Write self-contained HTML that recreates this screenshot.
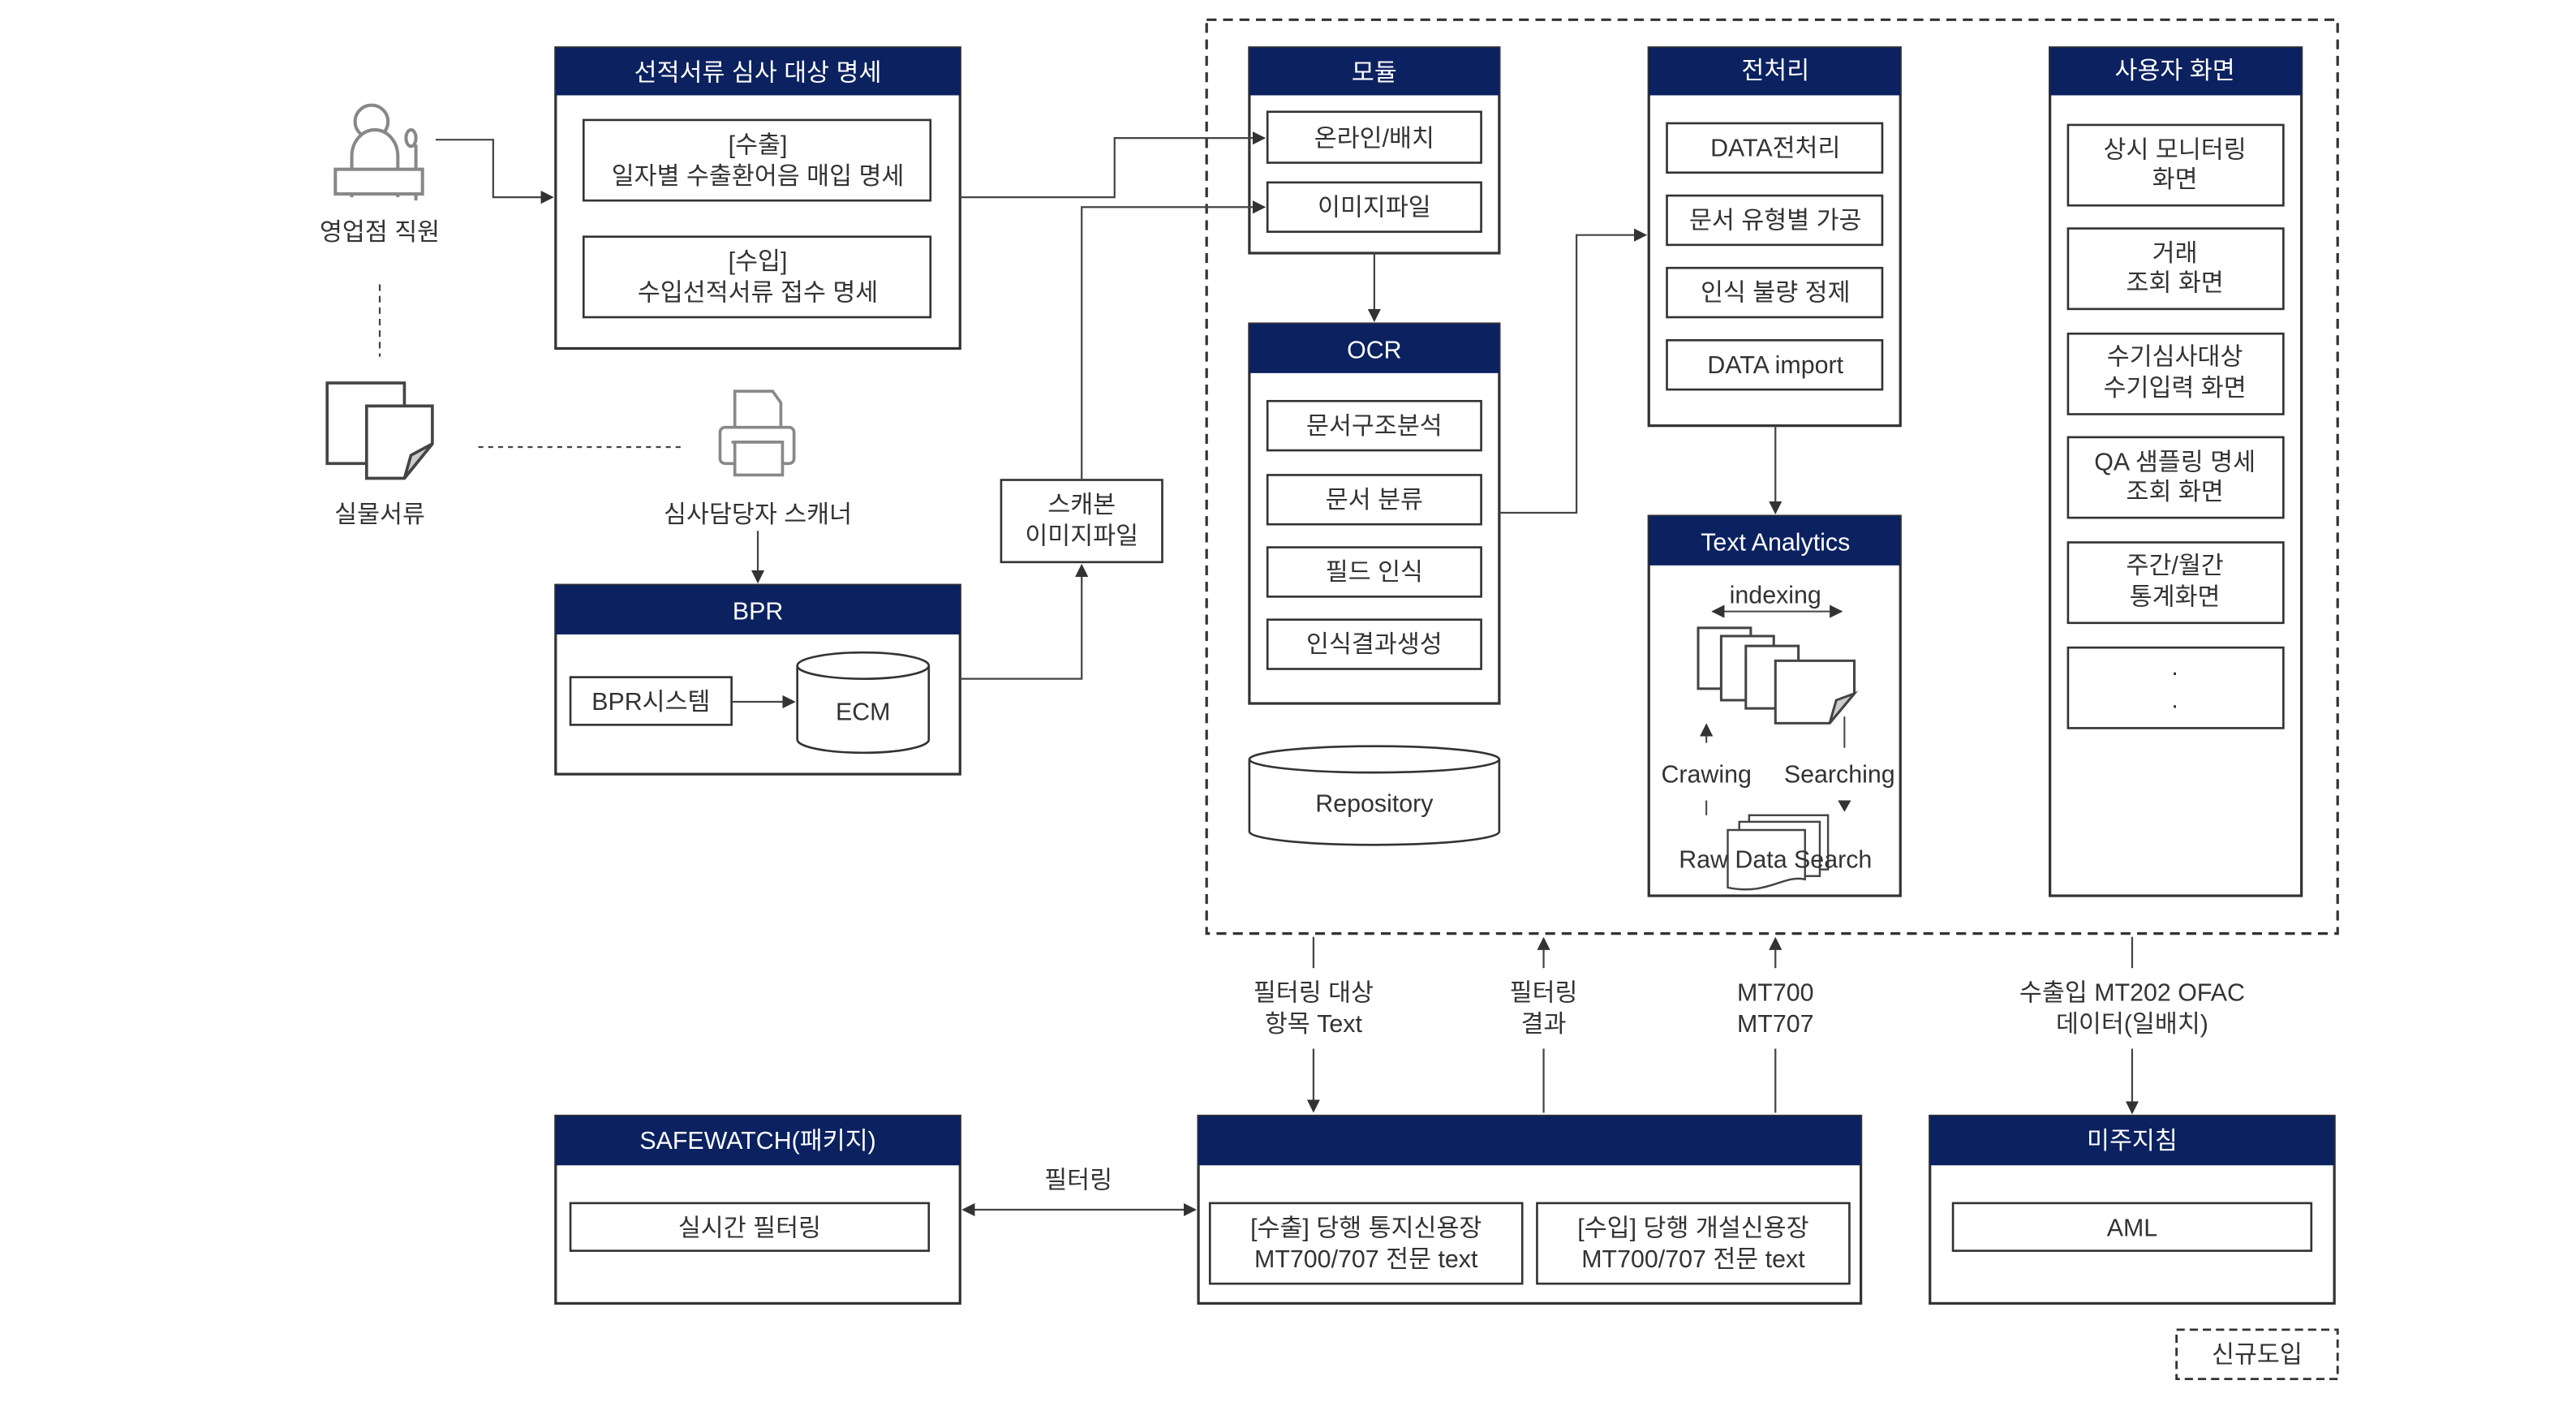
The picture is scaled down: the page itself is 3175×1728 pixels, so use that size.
<!DOCTYPE html>
<html><head><meta charset="utf-8"><style>
html,body{margin:0;padding:0;background:#fff;}
svg{display:block;}
text{font-family:"Liberation Sans","Noto Sans CJK KR",sans-serif;fill:#333;font-size:15px;text-anchor:middle;}
.h{fill:#fff;}
</style></head><body>
<svg width="3175" height="1728" viewBox="0 0 1567 853" preserveAspectRatio="none" xmlns="http://www.w3.org/2000/svg">
<defs>
<marker id="a" markerWidth="8" markerHeight="8" refX="7" refY="4" orient="auto" markerUnits="userSpaceOnUse"><path d="M0,0 L8,4 L0,8 Z" fill="#333"/></marker>
<marker id="as" markerWidth="8" markerHeight="8" refX="1" refY="4" orient="auto" markerUnits="userSpaceOnUse"><path d="M8,0 L0,4 L8,8 Z" fill="#333"/></marker>
</defs>
<g fill="none" stroke="#333" stroke-width="1.2">
<rect x="734" y="12" width="688" height="556" stroke-dasharray="6,4" stroke-width="1.6"/>
<rect x="1324" y="809" width="98" height="30" stroke-dasharray="5,3" stroke-width="1.4"/>
</g>
<g stroke="#333" stroke-width="1.6" fill="#fff">
<rect x="338" y="29" width="246" height="183"/>
<rect x="338" y="356" width="246" height="115"/>
<rect x="760" y="29" width="152" height="125"/>
<rect x="760" y="197" width="152" height="231"/>
<rect x="1003" y="29" width="153" height="230"/>
<rect x="1003" y="314" width="153" height="231"/>
<rect x="1247" y="29" width="153" height="516"/>
<rect x="338" y="679" width="246" height="114"/>
<rect x="729" y="679" width="403" height="114"/>
<rect x="1174" y="679" width="246" height="114"/>
</g>
<g fill="#0b2160">
<rect x="338" y="29" width="246" height="29"/>
<rect x="338" y="356" width="246" height="30"/>
<rect x="760" y="29" width="152" height="29"/>
<rect x="760" y="197" width="152" height="30"/>
<rect x="1003" y="29" width="153" height="29"/>
<rect x="1003" y="314" width="153" height="30"/>
<rect x="1247" y="29" width="153" height="29"/>
<rect x="338" y="679" width="246" height="30"/>
<rect x="729" y="679" width="403" height="30"/>
<rect x="1174" y="679" width="246" height="30"/>
</g>
<text class="h" x="461" y="49">선적서류 심사 대상 명세</text>
<text class="h" x="461" y="377">BPR</text>
<text class="h" x="836" y="49">모듈</text>
<text class="h" x="836" y="218">OCR</text>
<text class="h" x="1080" y="48">전처리</text>
<text class="h" x="1080" y="335">Text Analytics</text>
<text class="h" x="1323" y="48">사용자 화면</text>
<text class="h" x="461" y="699">SAFEWATCH(패키지)</text>
<text class="h" x="1297" y="699">미주지침</text>
<g fill="none" stroke="#333" stroke-width="1.3">
<rect x="355" y="73" width="211" height="49"/>
<rect x="355" y="144" width="211" height="49"/>
<rect x="347" y="412" width="98" height="29"/>
<rect x="609" y="292" width="98" height="50"/>
<rect x="771" y="68" width="130" height="31"/>
<rect x="771" y="111" width="130" height="30"/>
<rect x="771" y="244" width="130" height="30"/>
<rect x="771" y="289" width="130" height="30"/>
<rect x="771" y="333" width="130" height="30"/>
<rect x="771" y="377" width="130" height="30"/>
<rect x="1014" y="75" width="131" height="30"/>
<rect x="1014" y="119" width="131" height="30"/>
<rect x="1014" y="163" width="131" height="30"/>
<rect x="1014" y="207" width="131" height="30"/>
<rect x="1258" y="76" width="131" height="49"/>
<rect x="1258" y="139" width="131" height="49"/>
<rect x="1258" y="203" width="131" height="49"/>
<rect x="1258" y="266" width="131" height="49"/>
<rect x="1258" y="330" width="131" height="49"/>
<rect x="1258" y="394" width="131" height="49"/>
<rect x="347" y="732" width="218" height="29"/>
<rect x="736" y="732" width="190" height="49"/>
<rect x="935" y="732" width="190" height="49"/>
<rect x="1188" y="732" width="218" height="29"/>
</g>
<text x="461" y="93">[수출]</text><text x="461" y="112">일자별 수출환어음 매입 명세</text>
<text x="461" y="164">[수입]</text><text x="461" y="183">수입선적서류 접수 명세</text>
<text x="396" y="432">BPR시스템</text>
<text x="658" y="312">스캐본</text><text x="658" y="331">이미지파일</text>
<text x="836" y="89">온라인/배치</text>
<text x="836" y="131">이미지파일</text>
<text x="836" y="264">문서구조분석</text>
<text x="836" y="309">문서 분류</text>
<text x="836" y="353">필드 인식</text>
<text x="836" y="397">인식결과생성</text>
<text x="1080" y="95">DATA전처리</text>
<text x="1080" y="139">문서 유형별 가공</text>
<text x="1080" y="183">인식 불량 정제</text>
<text x="1080" y="227">DATA import</text>
<text x="1323" y="96">상시 모니터링</text><text x="1323" y="114">화면</text>
<text x="1323" y="159">거래</text><text x="1323" y="177">조회 화면</text>
<text x="1323" y="222">수기심사대상</text><text x="1323" y="241">수기입력 화면</text>
<text x="1323" y="286">QA 샘플링 명세</text><text x="1323" y="304">조회 화면</text>
<text x="1323" y="349">주간/월간</text><text x="1323" y="368">통계화면</text>
<text x="1323" y="414">·</text><text x="1323" y="434">·</text>
<text x="456" y="752">실시간 필터링</text>
<text x="831" y="752">[수출] 당행 통지신용장</text><text x="831" y="771">MT700/707 전문 text</text>
<text x="1030" y="752">[수입] 당행 개설신용장</text><text x="1030" y="771">MT700/707 전문 text</text>
<text x="1297" y="752">AML</text>
<text x="1373" y="829">신규도입</text>
<g stroke="#333" stroke-width="1.3" fill="#fff">
<path d="M485,405 L485,450 A40,8 0 0 0 565,450 L565,405"/>
<ellipse cx="525" cy="405" rx="40" ry="8"/>
<path d="M760,462 L760,506 A76,8 0 0 0 912,506 L912,462"/>
<ellipse cx="836" cy="462" rx="76" ry="8"/>
</g>
<text x="525" y="438">ECM</text>
<text x="836" y="494">Repository</text>
<g fill="none" stroke="#444" stroke-width="1.1">
<polyline points="265,85 300,85 300,120 336,120" marker-end="url(#a)"/>
<line x1="231" y1="173" x2="231" y2="217" stroke-dasharray="4,3"/>
<line x1="291" y1="272" x2="417" y2="272" stroke-dasharray="3,3"/>
<line x1="461" y1="323" x2="461" y2="354" marker-end="url(#a)"/>
<line x1="445" y1="427" x2="483" y2="427" marker-end="url(#a)"/>
<polyline points="584,413 658,413 658,344" marker-end="url(#a)"/>
<polyline points="658,292 658,126 769,126" marker-end="url(#a)"/>
<polyline points="584,120 678,120 678,84 769,84" marker-end="url(#a)"/>
<line x1="836" y1="154" x2="836" y2="195" marker-end="url(#a)"/>
<polyline points="912,312 959,312 959,143 1001,143" marker-end="url(#a)"/>
<line x1="1080" y1="259" x2="1080" y2="312" marker-end="url(#a)"/>
<line x1="799" y1="570" x2="799" y2="589"/>
<line x1="799" y1="638" x2="799" y2="676" marker-end="url(#a)"/>
<line x1="939" y1="589" x2="939" y2="571" marker-end="url(#a)"/>
<line x1="939" y1="638" x2="939" y2="677"/>
<line x1="1080" y1="589" x2="1080" y2="571" marker-end="url(#a)"/>
<line x1="1080" y1="638" x2="1080" y2="677"/>
<line x1="1297" y1="570" x2="1297" y2="589"/>
<line x1="1297" y1="638" x2="1297" y2="677" marker-end="url(#a)"/>
<line x1="586" y1="736" x2="727" y2="736" marker-end="url(#a)" marker-start="url(#as)"/>
</g>
<text x="799" y="609">필터링 대상</text><text x="799" y="628">항목 Text</text>
<text x="939" y="609">필터링</text><text x="939" y="628">결과</text>
<text x="1080" y="609">MT700</text><text x="1080" y="628">MT707</text>
<text x="1297" y="609">수출입 MT202 OFAC</text><text x="1297" y="628">데이터(일배치)</text>
<text x="656" y="723">필터링</text>
<text x="231" y="146">영업점 직원</text>
<text x="231" y="318">실물서류</text>
<text x="461" y="318">심사담당자 스캐너</text>
<g fill="#fff" stroke="#888" stroke-width="2">
<circle cx="226" cy="74" r="10"/>
<path d="M214,120 L214,95 A14,16 0 0 1 242,95 L242,120"/>
<line x1="253" y1="88" x2="253" y2="122"/>
<ellipse cx="250" cy="84" rx="3" ry="5"/>
<rect x="204" y="103" width="53" height="15"/>
</g>
<g fill="#fff" stroke="#444" stroke-width="1.8">
<rect x="199" y="233" width="47" height="49"/>
<path d="M223,247 L263,247 L263,270 L246,291 L223,291 Z"/>
<path d="M246,291 L250,277 L263,270 Z" fill="#ccc"/>
</g>
<g fill="#fff" stroke="#888" stroke-width="1.8">
<path d="M447,238 L470,238 L475,245 L475,262 L447,262 Z"/>
<rect x="438" y="260" width="45" height="22" rx="3"/>
<line x1="445" y1="269" x2="475" y2="269"/>
<rect x="447" y="269" width="29" height="20"/>
</g>
<text x="1080" y="367">indexing</text>
<line x1="1042" y1="372" x2="1120" y2="372" stroke="#444" stroke-width="1" marker-end="url(#a)" marker-start="url(#as)"/>
<g fill="#fff" stroke="#444" stroke-width="1.5">
<rect x="1033" y="382" width="32" height="37"/>
<rect x="1047" y="387" width="32" height="39"/>
<rect x="1062" y="393" width="32" height="38"/>
<path d="M1080,402 L1128,402 L1128,422 L1113,440 L1080,440 Z"/>
<path d="M1113,440 L1117,426 L1128,422 Z" fill="#ccc"/>
</g>
<line x1="1038" y1="452" x2="1038" y2="441" stroke="#444" marker-end="url(#a)"/>
<line x1="1122" y1="436" x2="1122" y2="455" stroke="#444"/>
<text x="1038" y="476">Crawing</text>
<text x="1119" y="476">Searching</text>
<line x1="1038" y1="487" x2="1038" y2="496" stroke="#444"/>
<path d="M1118,487 L1126,487 L1122,494 Z" fill="#333"/>
<g fill="#fff" stroke="#444" stroke-width="1.2">
<rect x="1064" y="496" width="48" height="33"/>
<rect x="1058" y="500" width="49" height="33"/>
<path d="M1051,505 L1098,505 L1098,535 C1085,532 1075,545 1051,540 Z"/>
</g>
<text x="1080" y="528">Raw Data Search</text>
</svg>
</body></html>
